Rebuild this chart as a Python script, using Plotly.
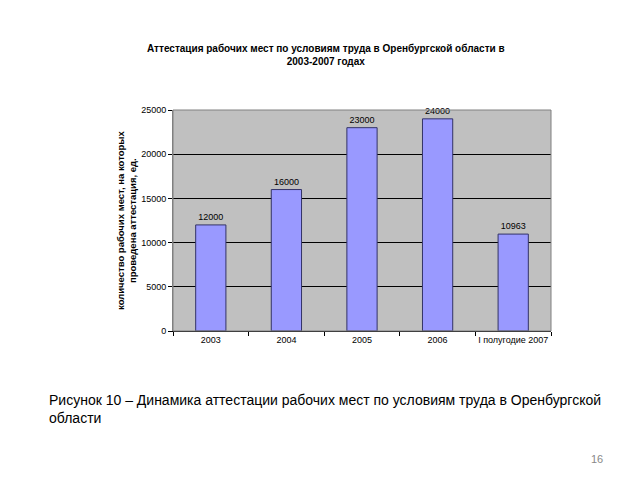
import plotly.graph_objects as go

categories = ["2003", "2004", "2005", "2006", "I полугодие 2007"]
values = [12000, 16000, 23000, 24000, 10963]
y_ticks = [0, 5000, 10000, 15000, 20000, 25000]

fig = go.Figure()
fig.add_trace(go.Bar(
    x=categories, y=values,
    width=0.4,
    marker=dict(color="#9999ff", line=dict(color="#333366", width=1)),
    text=[str(v) for v in values],
    textposition="outside",
    textfont=dict(family="Liberation Sans, Arial", size=9, color="#000000"),
    cliponaxis=False,
))

fig.update_layout(
    width=640, height=480,
    margin=dict(l=173, r=89, t=110, b=149),
    paper_bgcolor="white",
    plot_bgcolor="#c0c0c0",
    showlegend=False,
    font=dict(family="Liberation Sans, Arial", color="#000000"),
    xaxis=dict(
        showline=True, linecolor="#000000", linewidth=1,
        ticks="outside", tickson="boundaries", ticklen=4, tickcolor="#000000",
        tickfont=dict(size=9), tickangle=0,
        showgrid=False,
    ),
    yaxis=dict(
        range=[0, 25000],
        tickvals=y_ticks,
        ticktext=[str(v) for v in y_ticks],
        showline=True, linecolor="#808080", linewidth=1,
        ticks="outside", ticklen=4, tickcolor="#000000",
        tickfont=dict(size=9),
        showgrid=True, gridcolor="#000000", gridwidth=1,
        zeroline=False,
    ),
    shapes=[dict(type="rect", xref="paper", yref="paper", x0=0, y0=0, x1=1, y1=1,
                 line=dict(color="#808080", width=1))],
    annotations=[
        dict(text="<b>Аттестация рабочих мест по условиям труда в Оренбургской области в<br>2003-2007 годах</b>",
             xref="paper", yref="paper", x=326, y=55, xanchor="center", yanchor="middle",
             showarrow=False, font=dict(size=10)),
        dict(text="<b>количество рабочих мест, на которых<br>проведена аттестация, ед.</b>",
             xref="paper", yref="paper", x=126, y=221, xanchor="center", yanchor="middle",
             textangle=-90, showarrow=False, font=dict(size=9.5)),
        dict(text="Рисунок 10 – Динамика аттестации рабочих мест по условиям труда в Оренбургской<br>области",
             xref="paper", yref="paper", x=47, y=409, xanchor="left", yanchor="middle",
             align="left", showarrow=False, font=dict(size=14)),
        dict(text="16", xref="paper", yref="paper", x=597, y=459, xanchor="center", yanchor="middle",
             showarrow=False, font=dict(size=11, color="#888888")),
    ],
)

# convert pixel positions of annotations to paper coords
pw, ph = 640 - 173 - 89, 480 - 110 - 149
for a in fig.layout.annotations:
    px, py = a.x, a.y
    a.x = (px - 173) / pw
    a.y = 1 - (py - 110) / ph

fig.write_html("out.html")
